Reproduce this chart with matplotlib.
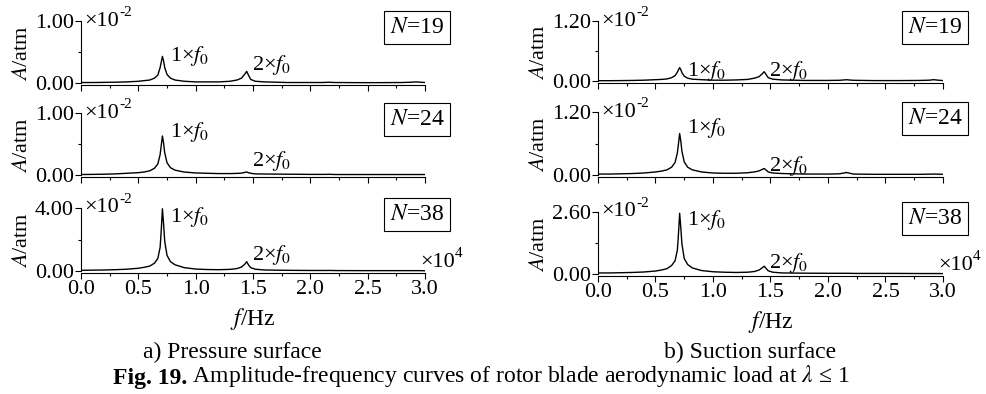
import numpy as np
import matplotlib.pyplot as plt
from matplotlib.ticker import MultipleLocator, FixedLocator

plt.rcParams['font.family'] = ['Liberation Serif', 'DejaVu Serif']
plt.rcParams['mathtext.fontset'] = 'stix'
plt.rcParams['font.size'] = 16

# frequency (x10^4 Hz)
freq = [0.00, 0.10, 0.20, 0.30, 0.40, 0.50, 0.55, 0.60, 0.64, 0.67, 0.69, 0.70,
        0.71, 0.72, 0.73, 0.75, 0.78, 0.82, 0.90, 1.00, 1.10, 1.20, 1.30, 1.36,
        1.40, 1.43, 1.445, 1.46, 1.48, 1.52, 1.60, 1.80, 2.00, 2.10, 2.14, 2.16,
        2.18, 2.22, 2.40, 2.60, 2.80, 2.88, 2.92, 2.96, 3.00]

# amplitude (x10^-2 atm), pressure surface
ps_n19 = [0.01, 0.01, 0.012, 0.015, 0.02, 0.03, 0.04, 0.05, 0.08, 0.13, 0.25, 0.34,
          0.43, 0.36, 0.25, 0.14, 0.08, 0.05, 0.03, 0.02, 0.02, 0.02, 0.03, 0.05,
          0.08, 0.15, 0.19, 0.13, 0.06, 0.03, 0.02, 0.01, 0.01, 0.01, 0.012, 0.015,
          0.012, 0.01, 0.008, 0.008, 0.01, 0.015, 0.02, 0.015, 0.01]
ps_n24 = [0.01, 0.012, 0.015, 0.02, 0.03, 0.04, 0.05, 0.07, 0.11, 0.18, 0.33, 0.48,
          0.63, 0.52, 0.36, 0.20, 0.12, 0.08, 0.05, 0.035, 0.03, 0.025, 0.025, 0.028,
          0.032, 0.045, 0.05, 0.04, 0.03, 0.02, 0.018, 0.015, 0.012, 0.012, 0.012, 0.014,
          0.012, 0.01, 0.01, 0.01, 0.01, 0.01, 0.01, 0.01, 0.01]
ps_n38 = [0.05, 0.06, 0.07, 0.09, 0.12, 0.18, 0.24, 0.32, 0.50, 0.80, 1.50, 2.60,
          3.95, 3.00, 1.90, 1.00, 0.60, 0.40, 0.22, 0.13, 0.10, 0.09, 0.11, 0.16,
          0.26, 0.45, 0.60, 0.40, 0.22, 0.12, 0.07, 0.05, 0.04, 0.04, 0.04, 0.045,
          0.04, 0.035, 0.03, 0.03, 0.03, 0.03, 0.03, 0.03, 0.02]

# amplitude (x10^-2 atm), suction surface
ss_n19 = [0.01, 0.01, 0.012, 0.015, 0.02, 0.03, 0.035, 0.045, 0.07, 0.11, 0.18, 0.23,
          0.27, 0.23, 0.17, 0.10, 0.06, 0.04, 0.03, 0.02, 0.02, 0.025, 0.035, 0.06,
          0.09, 0.15, 0.19, 0.14, 0.07, 0.04, 0.025, 0.015, 0.015, 0.018, 0.025, 0.03,
          0.025, 0.018, 0.012, 0.012, 0.015, 0.02, 0.03, 0.02, 0.012]
ss_n24 = [0.02, 0.02, 0.025, 0.03, 0.04, 0.06, 0.075, 0.10, 0.15, 0.24, 0.42, 0.60,
          0.79, 0.65, 0.45, 0.25, 0.15, 0.10, 0.06, 0.04, 0.035, 0.035, 0.045, 0.06,
          0.08, 0.11, 0.125, 0.10, 0.06, 0.04, 0.03, 0.02, 0.02, 0.025, 0.04, 0.05,
          0.04, 0.02, 0.015, 0.015, 0.015, 0.018, 0.02, 0.018, 0.015]
ss_n38 = [0.05, 0.05, 0.06, 0.07, 0.09, 0.13, 0.17, 0.23, 0.36, 0.56, 1.00, 1.70,
          2.55, 1.95, 1.25, 0.65, 0.40, 0.26, 0.15, 0.10, 0.08, 0.07, 0.08, 0.11,
          0.17, 0.27, 0.33, 0.25, 0.14, 0.08, 0.05, 0.04, 0.035, 0.035, 0.035, 0.035,
          0.035, 0.03, 0.03, 0.03, 0.025, 0.025, 0.025, 0.025, 0.02]

blade_counts = [19, 24, 38]
ps_tops = [1.00, 1.00, 4.00]
ss_tops = [1.20, 1.20, 2.60]

# label heights (axes fraction): (1xf0, 2xf0)
ps_lab_y = [(0.45, 0.31), (0.70, 0.25), (0.86, 0.28)]
ss_lab_y = [(0.19, 0.19), (0.75, 0.17), (0.87, 0.20)]

W, H = 987, 394
fig = plt.figure(figsize=(W / 100, H / 100), dpi=100)

ps_rows = [(21, 85), (113, 177), (208, 273)]
ss_rows = [(21, 83), (112, 177), (212, 276)]


def power_label(ax, x, y, base, expo, **kw):
    t = ax.text(x, y, base, transform=ax.transAxes, fontsize=16, **kw)
    ax.annotate(expo, xy=(1.0, 0.62), xycoords=t, ha='left', va='bottom',
                fontsize=11)
    return t


def make_panel(x0, x1, top, bot, data, ytop, n, lab_y, last):
    ax = fig.add_axes([x0 / W, 1 - bot / H, (x1 - x0) / W, (bot - top) / H])
    ax.plot(freq, data, color='black', lw=1.0)
    ax.set_xlim(0, 3.0)
    ax.set_ylim(-0.03 * ytop, ytop)
    for s in ['top', 'right']:
        ax.spines[s].set_visible(False)
    ax.spines['left'].set_bounds(0, ytop)
    ax.xaxis.set_major_locator(MultipleLocator(0.5))
    ax.xaxis.set_minor_locator(MultipleLocator(0.25))
    ax.yaxis.set_major_locator(FixedLocator([0, ytop]))
    ax.yaxis.set_minor_locator(FixedLocator([ytop / 2]))
    ax.yaxis.set_major_formatter(plt.FormatStrFormatter('%.2f'))
    ax.xaxis.set_major_formatter(plt.FormatStrFormatter('%.1f'))
    ax.tick_params(which='major', direction='out', length=4, width=0.8, labelsize=16, pad=1)
    ax.tick_params(which='minor', direction='out', length=2.5, width=0.8)
    if not last:
        ax.tick_params(axis='x', labelbottom=False)
    ax.set_ylabel('$A$/atm', fontsize=16, labelpad=2)
    power_label(ax, 0.01, 1.0, '×10', '-2', ha='left', va='center')
    ax.text(0.977, 0.90, '$N$=%d' % n, transform=ax.transAxes, fontsize=17,
            ha='center', va='center',
            bbox=dict(boxstyle='square,pad=0.25', fc='white', ec='black', lw=0.8))
    ax.text(0.776, lab_y[0], '1×$f_0$', transform=ax.get_xaxis_transform(),
            fontsize=16, ha='left', va='center')
    ax.text(1.489, lab_y[1], '2×$f_0$', transform=ax.get_xaxis_transform(),
            fontsize=16, ha='left', va='center')
    if last:
        power_label(ax, 0.985, 0.16, '×10', '4', ha='left', va='center')
        ax.set_xlabel('$f$/Hz', fontsize=17, labelpad=5)
    return ax


ps_data = [ps_n19, ps_n24, ps_n38]
ss_data = [ss_n19, ss_n24, ss_n38]
for i in range(3):
    make_panel(81, 425, ps_rows[i][0], ps_rows[i][1], ps_data[i], ps_tops[i],
               blade_counts[i], ps_lab_y[i], i == 2)
    make_panel(598, 943, ss_rows[i][0], ss_rows[i][1], ss_data[i], ss_tops[i],
               blade_counts[i], ss_lab_y[i], i == 2)

fig.text(232 / W, 1 - 352 / H, 'a) Pressure surface', fontsize=17, ha='center', va='center')
fig.text(750 / W, 1 - 352 / H, 'b) Suction surface', fontsize=17, ha='center', va='center')
bold = fig.text(113 / W, 1 - 389 / H, 'Fig. 19.', fontsize=17, fontweight='bold',
                ha='left', va='bottom')
fig.add_artist(plt.Annotation(' Amplitude-frequency curves of rotor blade aerodynamic load at $\\lambda$ ≤ 1',
                              xy=(1.0, 0.0), xycoords=bold, ha='left', va='bottom',
                              fontsize=17))

fig.savefig('out.png', dpi=100)
